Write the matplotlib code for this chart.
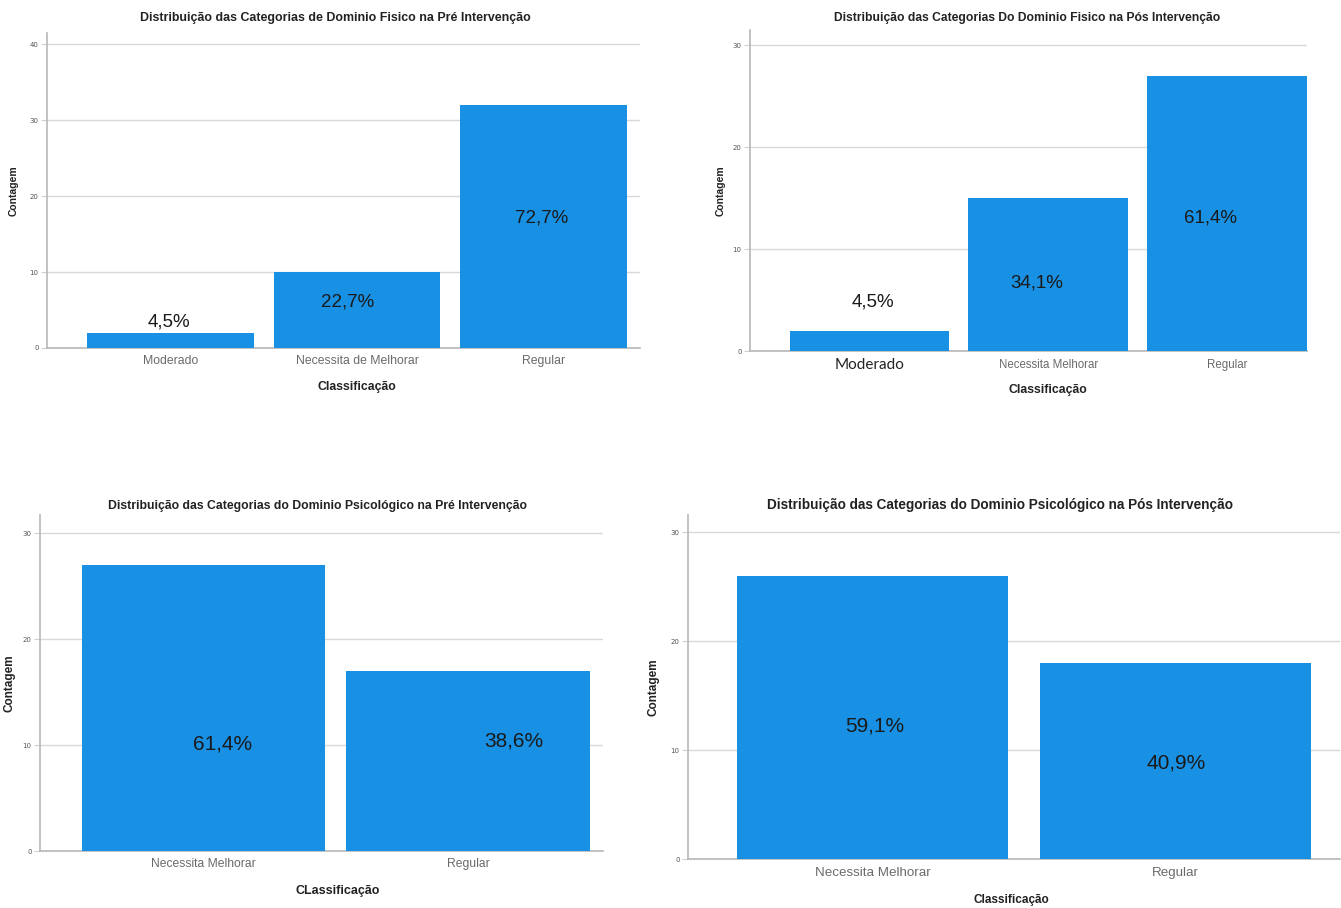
import matplotlib
matplotlib.use("Agg")
import matplotlib.pyplot as plt

# ---- data ----
titles = [
    "Distribuição das Categorias de Dominio Fisico na Pré Intervenção",
    "Distribuição das Categorias Do Dominio Fisico na Pós Intervenção",
    "Distribuição das Categorias do Dominio Psicológico na Pré Intervenção",
    "Distribuição das Categorias do Dominio Psicológico na Pós Intervenção",
]
cats_fis_pre = ["Moderado", "Necessita de Melhorar", "Regular"]
vals_fis_pre = [2, 10, 32]
pct_fis_pre = ["4,5%", "22,7%", "72,7%"]

cats_fis_pos = ["Moderado", "Necessita Melhorar", "Regular"]
vals_fis_pos = [2, 15, 27]
pct_fis_pos = ["4,5%", "34,1%", "61,4%"]

cats_psi_pre = ["Necessita Melhorar", "Regular"]
vals_psi_pre = [27, 17]
pct_psi_pre = ["61,4%", "38,6%"]

cats_psi_pos = ["Necessita Melhorar", "Regular"]
vals_psi_pos = [26, 18]
pct_psi_pos = ["59,1%", "40,9%"]

xlabels = ["Classificação", "Classificação", "CLassificação", "Classificação"]
ylabel = "Contagem"
yticks_all = [[0, 10, 20, 30, 40], [0, 10, 20, 30], [0, 10, 20, 30], [0, 10, 20, 30]]

# ---- layout (pixels) ----
W, H = 1341, 908
fig = plt.figure(figsize=(W / 100, H / 100), dpi=100)
BAR = "#1890E4"
FONT = "Liberation Sans"

def px_axes(x0, x1, ytop, ybot):
    return fig.add_axes([x0 / W, 1 - ybot / H, (x1 - x0) / W, (ybot - ytop) / H])

panels = [
    dict(box=(47, 640, 33, 348), cats=cats_fis_pre, vals=vals_fis_pre, pct=pct_fis_pre,
         xlim=(-0.662, 2.517), ylim=(0, 41.5), width=0.895,
         lab_y=[3.4, 6.0, 17.1], lab_dx=[-0.01, -0.05, -0.01],
         title_y=18, tick_y=361, xl_y=387, yl_x=14,
         title_fs=8.9, tick_fs=8.8, xl_fs=8.8, yl_fs=7.5, pct_fs=13.5,
         title_cx=335, xl_cx=357),
    dict(box=(750, 1307, 30, 351), cats=cats_fis_pos, vals=vals_fis_pos, pct=pct_fis_pos,
         xlim=(-0.668, 2.446), ylim=(0, 31.5), width=0.894,
         lab_y=[4.8, 6.7, 13.1], lab_dx=[0.022, -0.067, -0.095],
         title_y=18, tick_y=365, xl_y=390, yl_x=721,
         title_fs=8.7, tick_fs=8.3, xl_fs=8.8, yl_fs=7.5, pct_fs=13.5,
         title_cx=1027, xl_cx=1048),
    dict(box=(40, 603, 515, 851), cats=cats_psi_pre, vals=vals_psi_pre, pct=pct_psi_pre,
         xlim=(-0.618, 1.51), ylim=(0, 31.7), width=0.92,
         lab_y=[10.1, 10.4], lab_dx=[0.072, 0.174],
         title_y=506, tick_y=864, xl_y=891, yl_x=10,
         title_fs=8.8, tick_fs=8.7, xl_fs=9.0, yl_fs=8.5, pct_fs=15,
         title_cx=317, xl_cx=338),
    dict(box=(688, 1340, 515, 859), cats=cats_psi_pos, vals=vals_psi_pos, pct=pct_psi_pos,
         xlim=(-0.61, 1.545), ylim=(0, 31.6), width=0.895,
         lab_y=[12.2, 8.8], lab_dx=[0.007, 0.003],
         title_y=505, tick_y=873, xl_y=900, yl_x=654,
         title_fs=9.8, tick_fs=9.6, xl_fs=8.5, yl_fs=8.5, pct_fs=15,
         title_cx=1000, xl_cx=1011),
]

for i, p in enumerate(panels):
    x0, x1, yt, yb = p["box"]
    ax = px_axes(x0, x1, yt, yb)
    xs = list(range(len(p["cats"])))
    ax.bar(xs, p["vals"], width=p["width"], color=BAR, zorder=3)
    ax.set_xlim(*p["xlim"])
    ax.set_ylim(*p["ylim"])
    ax.set_yticks(yticks_all[i])
    ax.yaxis.grid(True, color="#d8d8d8", linewidth=1.0, zorder=0)
    ax.set_axisbelow(True)
    for s in ["top", "right"]:
        ax.spines[s].set_visible(False)
    ax.spines["left"].set_color("#b8b8b8")
    ax.spines["bottom"].set_color("#b8b8b8")
    ax.spines["left"].set_linewidth(1.2)
    ax.spines["bottom"].set_linewidth(1.2)
    ax.tick_params(axis="y", labelsize=5, colors="#555555", length=4, width=0.8,
                   color="#d0d0d0", pad=2)
    ax.tick_params(axis="x", length=0, labelbottom=False)
    for k, c in enumerate(p["cats"]):
        xpix = x0 + (k - p["xlim"][0]) / (p["xlim"][1] - p["xlim"][0]) * (x1 - x0)
        if i == 1 and k == 0:
            fig.text(xpix / W, 1 - p["tick_y"] / H, c, ha="center", va="center",
                     fontsize=11, color="#222222", family="Lato")
        else:
            fig.text(xpix / W, 1 - p["tick_y"] / H, c, ha="center", va="center",
                     fontsize=p["tick_fs"], color="#6a6a6a", family=FONT)
        ax.text(k + p["lab_dx"][k], p["lab_y"][k], p["pct"][k], ha="center", va="center",
                fontsize=p["pct_fs"], color="#1a1a1a", zorder=4, family=FONT)
    fig.text(p["title_cx"] / W, 1 - p["title_y"] / H, titles[i], ha="center", va="center",
             fontsize=p["title_fs"], fontweight="bold", color="#222222", family=FONT)
    fig.text(p["xl_cx"] / W, 1 - p["xl_y"] / H, xlabels[i], ha="center", va="center",
             fontsize=p["xl_fs"], fontweight="bold", color="#222222", family=FONT)
    yl_cy = (yt + yb) / 2
    fig.text(p["yl_x"] / W, 1 - yl_cy / H, ylabel, ha="center", va="center", rotation=90,
             fontsize=p["yl_fs"], fontweight="bold", color="#222222", family=FONT)

fig.savefig("out.png", dpi=100, facecolor="white")
